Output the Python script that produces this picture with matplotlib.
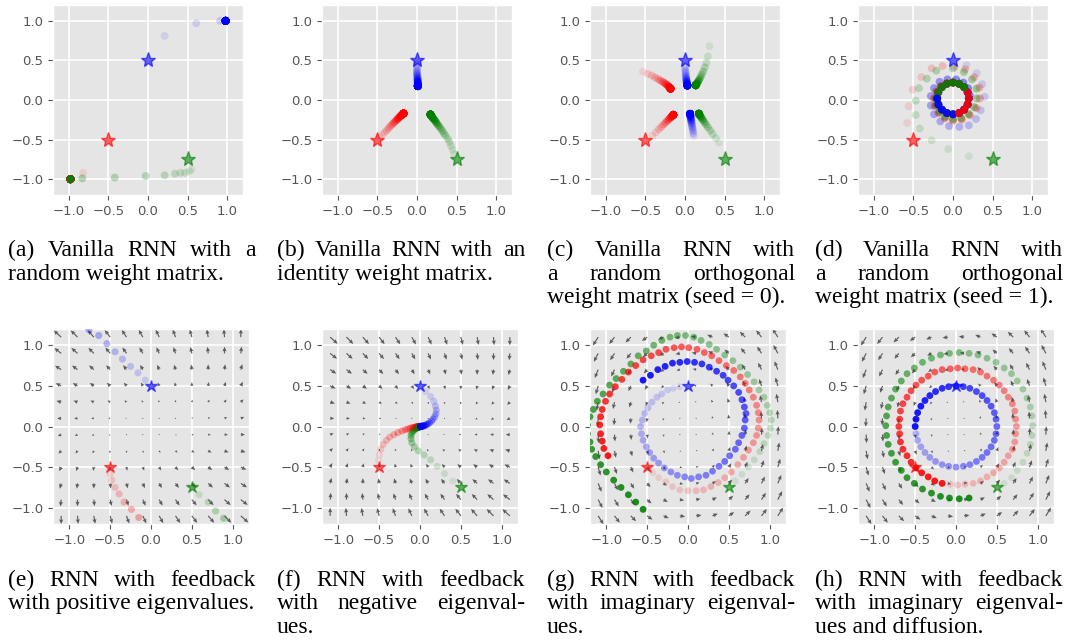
import matplotlib
matplotlib.use("Agg")
import numpy as np
import matplotlib.pyplot as plt
from matplotlib.colors import to_rgba

W, H = 1067, 642

# start points (stars), shared by every panel
START_X = [-0.5, 0.0, 0.5]
START_Y = [-0.5, 0.5, -0.75]
COLORS = ["red", "blue", "green"]

# (a) random weight matrix
A_RED = [(-0.82, -0.92)] + [(-0.98, -1.0)] * 38
A_BLUE = [(0.21, 0.81), (0.61, 0.97), (0.91, 1.0)] + [(0.98, 1.0)] * 36
A_GREEN = [(0.55, -0.88), (0.52, -0.90), (0.47, -0.92), (0.41, -0.92), (0.34, -0.93),
           (0.21, -0.95), (-0.03, -0.96), (-0.42, -0.98), (-0.83, -0.99)] + [(-0.98, -1.0)] * 30

# (b) identity weight matrix
B_RED = [(-0.47, -0.47), (-0.44, -0.44), (-0.41, -0.41), (-0.385, -0.385), (-0.36, -0.36),
         (-0.34, -0.335), (-0.32, -0.315), (-0.30, -0.295), (-0.285, -0.28), (-0.27, -0.265),
         (-0.255, -0.25), (-0.245, -0.24), (-0.235, -0.23), (-0.225, -0.22), (-0.215, -0.21),
         (-0.207, -0.203), (-0.20, -0.197), (-0.195, -0.192), (-0.19, -0.187), (-0.186, -0.183),
         (-0.182, -0.18), (-0.178, -0.177), (-0.175, -0.175)] + [(-0.17, -0.17)] * 11
B_BLUE = [(0.0, 0.47), (0.0, 0.44), (0.0, 0.41), (0.0, 0.385), (0.0, 0.36), (0.0, 0.34),
          (0.002, 0.32), (0.003, 0.30), (0.005, 0.285), (0.006, 0.27), (0.007, 0.255),
          (0.008, 0.245), (0.009, 0.235), (0.01, 0.225), (0.01, 0.215), (0.01, 0.207),
          (0.01, 0.20), (0.01, 0.195), (0.01, 0.19), (0.01, 0.186), (0.01, 0.183), (0.01, 0.18),
          (0.01, 0.178), (0.01, 0.176)] + [(0.01, 0.175)] * 10
B_GREEN = [(0.47, -0.68), (0.45, -0.63), (0.43, -0.58), (0.41, -0.53), (0.39, -0.49),
           (0.36, -0.45), (0.34, -0.42), (0.32, -0.39), (0.30, -0.36), (0.28, -0.335),
           (0.265, -0.315), (0.25, -0.295), (0.24, -0.28), (0.23, -0.265), (0.22, -0.25),
           (0.21, -0.24), (0.20, -0.23), (0.195, -0.22), (0.19, -0.212), (0.185, -0.205),
           (0.18, -0.198), (0.177, -0.193), (0.174, -0.189), (0.172, -0.186)] + [(0.17, -0.183)] * 10

# (c) random orthogonal, seed 0 (each trajectory alternates between two branches)
C_RED_UP = [(-0.53, 0.36), (-0.47, 0.33), (-0.42, 0.31), (-0.38, 0.285), (-0.34, 0.265),
            (-0.31, 0.245), (-0.28, 0.23), (-0.26, 0.215), (-0.24, 0.20), (-0.225, 0.19),
            (-0.21, 0.175), (-0.20, 0.165), (-0.195, 0.158), (-0.19, 0.152),
            (-0.187, 0.148)] + [(-0.183, 0.143)] * 8
C_RED_LOW = [(-0.41, -0.45), (-0.37, -0.41), (-0.33, -0.37), (-0.30, -0.34), (-0.27, -0.31),
             (-0.245, -0.285), (-0.225, -0.265), (-0.205, -0.245), (-0.19, -0.23),
             (-0.178, -0.218), (-0.168, -0.208), (-0.16, -0.20), (-0.155, -0.195),
             (-0.15, -0.19)] + [(-0.147, -0.187)] * 8
C_BLUE_UP = [(0.0, 0.43), (0.0, 0.40), (0.005, 0.37), (0.008, 0.34), (0.01, 0.31),
             (0.013, 0.285), (0.016, 0.265), (0.019, 0.245), (0.021, 0.23), (0.023, 0.218),
             (0.025, 0.207), (0.027, 0.198), (0.028, 0.192), (0.029, 0.187)] + [(0.03, 0.183)] * 8
C_BLUE_LOW = [(0.11, -0.45), (0.105, -0.42), (0.10, -0.39), (0.095, -0.36), (0.09, -0.33),
              (0.085, -0.30), (0.08, -0.275), (0.077, -0.255), (0.074, -0.235), (0.071, -0.22),
              (0.069, -0.205), (0.067, -0.195), (0.066, -0.187), (0.065, -0.18)] + [(0.064, -0.175)] * 8
C_GREEN_UP = [(0.31, 0.68), (0.29, 0.55), (0.27, 0.47), (0.25, 0.41), (0.23, 0.36),
              (0.21, 0.32), (0.195, 0.285), (0.18, 0.26), (0.17, 0.24), (0.16, 0.225),
              (0.15, 0.21), (0.145, 0.20), (0.14, 0.195), (0.137, 0.19)] + [(0.135, 0.186)] * 8
C_GREEN_LOW = [(0.43, -0.54), (0.39, -0.48), (0.35, -0.43), (0.32, -0.385), (0.29, -0.345),
               (0.265, -0.31), (0.245, -0.28), (0.228, -0.255), (0.214, -0.235), (0.203, -0.218),
               (0.194, -0.204), (0.187, -0.193), (0.182, -0.185), (0.178, -0.178)] + [(0.175, -0.173)] * 8

# (d) random orthogonal, seed 1 (spiral onto a small ring)
D_RED = [(-0.58, -0.29), (-0.56, -0.08), (-0.51, 0.13), (-0.40, 0.29), (-0.27, 0.40),
         (-0.13, 0.43), (0.02, 0.42), (0.153, 0.39), (0.269, 0.289), (0.333, 0.158), (0.34, 0.02),
         (0.296, -0.103), (0.212, -0.192), (0.111, -0.248), (0.0, -0.26), (-0.103, -0.229),
         (-0.184, -0.164), (-0.231, -0.076), (-0.24, 0.02), (-0.212, 0.108), (-0.156, 0.176),
         (-0.08, 0.214), (0.0, 0.22), (0.077, 0.205), (0.141, 0.161), (0.185, 0.097), (0.20, 0.02),
         (0.185, -0.057), (0.141, -0.121), (0.077, -0.165), (0.0, -0.18), (-0.077, -0.165),
         (-0.141, -0.121), (-0.185, -0.057), (-0.20, 0.02), (-0.185, 0.097), (-0.141, 0.161),
         (-0.077, 0.205), (0.0, 0.22), (0.077, 0.205), (0.141, 0.161), (0.185, 0.097), (0.20, 0.02),
         (0.185, -0.057), (0.141, -0.121), (0.077, -0.165)]
D_BLUE = [(0.17, 0.44), (0.30, 0.34), (0.37, 0.20), (0.40, 0.04), (0.35, -0.13), (0.29, -0.24),
          (0.20, -0.32), (0.08, -0.34), (-0.05, -0.33), (-0.16, -0.27), (-0.24, -0.18),
          (-0.28, -0.07), (-0.28, 0.05), (-0.24, 0.15), (-0.17, 0.23), (-0.07, 0.26), (0.04, 0.26),
          (0.13, 0.22), (0.19, 0.15), (0.21, 0.06), (0.185, -0.057), (0.141, -0.121),
          (0.077, -0.165), (0.0, -0.18), (-0.077, -0.165), (-0.141, -0.121), (-0.185, -0.057),
          (-0.20, 0.02), (-0.185, 0.097), (-0.141, 0.161), (-0.077, 0.205), (0.0, 0.22),
          (0.077, 0.205), (0.141, 0.161), (0.185, 0.097), (0.20, 0.02), (0.185, -0.057),
          (0.141, -0.121), (0.077, -0.165), (0.0, -0.18), (-0.077, -0.165), (-0.141, -0.121),
          (-0.185, -0.057), (-0.20, 0.02)]
D_GREEN = [(0.20, -0.71), (-0.06, -0.62), (-0.27, -0.51), (-0.42, -0.36), (-0.47, -0.19),
           (-0.47, -0.01), (-0.43, 0.15), (-0.33, 0.27), (-0.21, 0.37), (0.0, 0.40), (0.138, 0.353),
           (0.24, 0.26), (0.296, 0.143), (0.30, 0.02), (0.268, -0.091), (0.198, -0.178),
           (0.103, -0.229), (0.0, -0.24), (-0.096, -0.211), (-0.17, -0.15), (-0.212, -0.068),
           (-0.22, 0.02), (-0.194, 0.10), (-0.148, 0.168), (-0.077, 0.205), (0.0, 0.22),
           (0.077, 0.205), (0.141, 0.161), (0.185, 0.097), (0.20, 0.02), (0.185, -0.057),
           (0.141, -0.121), (0.077, -0.165), (0.0, -0.18), (-0.077, -0.165), (-0.141, -0.121),
           (-0.185, -0.057), (-0.20, 0.02), (-0.185, 0.097), (-0.141, 0.161), (-0.077, 0.205),
           (0.0, 0.22), (0.077, 0.205), (0.141, 0.161)]

# (e) feedback, positive eigenvalues
E_RED = [(-0.50, -0.58), (-0.48, -0.66), (-0.44, -0.75), (-0.39, -0.83), (-0.33, -0.93),
         (-0.24, -1.02), (-0.15, -1.12)]
E_BLUE = [(-0.07, 0.57), (-0.16, 0.66), (-0.25, 0.74), (-0.35, 0.83), (-0.44, 0.92),
          (-0.54, 1.02), (-0.64, 1.12), (-0.76, 1.19)]
E_GREEN = [(0.59, -0.84), (0.70, -0.93), (0.79, -1.04), (0.89, -1.13)]

# (f) feedback, negative eigenvalues
F_RED = [(-0.51, -0.42), (-0.50, -0.35), (-0.48, -0.28), (-0.45, -0.22), (-0.41, -0.17),
         (-0.37, -0.13), (-0.32, -0.10), (-0.27, -0.075), (-0.22, -0.055), (-0.18, -0.04),
         (-0.145, -0.03), (-0.115, -0.02), (-0.09, -0.015), (-0.07, -0.01), (-0.055, -0.007),
         (-0.04, -0.005), (-0.03, -0.003), (-0.02, -0.002), (-0.014, -0.001)] + [(-0.01, 0.0)] * 10
F_BLUE = [(0.07, 0.43), (0.13, 0.37), (0.17, 0.31), (0.19, 0.25), (0.20, 0.20), (0.195, 0.155),
          (0.18, 0.12), (0.16, 0.09), (0.14, 0.065), (0.115, 0.045), (0.095, 0.03), (0.075, 0.02),
          (0.06, 0.013), (0.045, 0.008), (0.035, 0.005), (0.025, 0.003), (0.018, 0.002),
          (0.012, 0.001), (0.008, 0.0)] + [(0.005, 0.0)] * 10
F_GREEN = [(0.40, -0.67), (0.30, -0.58), (0.21, -0.49), (0.13, -0.41), (0.05, -0.35),
           (-0.02, -0.30), (-0.07, -0.25), (-0.10, -0.20), (-0.11, -0.15), (-0.11, -0.11),
           (-0.10, -0.08), (-0.085, -0.055), (-0.07, -0.04), (-0.055, -0.028), (-0.042, -0.02),
           (-0.032, -0.014), (-0.024, -0.01), (-0.018, -0.007), (-0.013, -0.005)] + [(-0.01, -0.003)] * 10

# (g) feedback, imaginary eigenvalues
G_RED = [(-0.43, -0.57), (-0.36, -0.63), (-0.27, -0.68), (-0.19, -0.74), (-0.10, -0.78),
         (0.0, -0.79), (0.10, -0.79), (0.19, -0.78), (0.28, -0.74), (0.37, -0.69), (0.45, -0.63),
         (0.53, -0.56), (0.61, -0.47), (0.68, -0.38), (0.74, -0.29), (0.80, -0.20), (0.84, -0.11),
         (0.86, -0.02), (0.87, 0.08), (0.86, 0.17), (0.84, 0.26), (0.80, 0.36), (0.75, 0.45),
         (0.70, 0.53), (0.64, 0.61), (0.56, 0.69), (0.47, 0.75), (0.38, 0.81), (0.29, 0.87),
         (0.20, 0.91), (0.11, 0.95), (0.01, 0.97), (-0.08, 0.98), (-0.17, 0.97), (-0.27, 0.95),
         (-0.36, 0.91), (-0.45, 0.87), (-0.55, 0.82), (-0.64, 0.75), (-0.73, 0.67), (-0.81, 0.58),
         (-0.89, 0.49), (-0.96, 0.40), (-1.01, 0.31), (-1.05, 0.21), (-1.07, 0.12), (-1.08, 0.02),
         (-1.07, -0.09), (-1.05, -0.18), (-1.03, -0.27), (-0.98, -0.36)]
G_BLUE = [(-0.10, 0.49), (-0.18, 0.47), (-0.25, 0.45), (-0.32, 0.40), (-0.38, 0.36),
          (-0.44, 0.30), (-0.49, 0.23), (-0.53, 0.16), (-0.56, 0.08), (-0.58, 0.0), (-0.57, -0.09),
          (-0.55, -0.17), (-0.51, -0.25), (-0.47, -0.32), (-0.42, -0.39), (-0.36, -0.45),
          (-0.29, -0.51), (-0.21, -0.56), (-0.13, -0.60), (-0.04, -0.62), (0.04, -0.64),
          (0.13, -0.62), (0.22, -0.60), (0.30, -0.55), (0.38, -0.49), (0.45, -0.43), (0.51, -0.36),
          (0.58, -0.28), (0.62, -0.20), (0.66, -0.11), (0.69, -0.02), (0.70, 0.08), (0.71, 0.16),
          (0.69, 0.24), (0.66, 0.33), (0.62, 0.42), (0.56, 0.50), (0.49, 0.57), (0.43, 0.63),
          (0.35, 0.68), (0.26, 0.73), (0.17, 0.77), (0.08, 0.79), (-0.01, 0.80), (-0.10, 0.79),
          (-0.19, 0.78), (-0.28, 0.74), (-0.37, 0.70), (-0.46, 0.63), (-0.55, 0.57)]
G_GREEN = [(0.58, -0.67), (0.66, -0.59), (0.74, -0.50), (0.81, -0.41), (0.88, -0.31),
           (0.93, -0.21), (0.98, -0.11), (1.01, -0.02), (1.02, 0.08), (1.00, 0.17), (0.97, 0.26),
           (0.93, 0.36), (0.87, 0.45), (0.81, 0.55), (0.73, 0.64), (0.64, 0.73), (0.55, 0.81),
           (0.45, 0.88), (0.35, 0.95), (0.26, 1.01), (0.16, 1.06), (0.07, 1.10), (-0.03, 1.12),
           (-0.13, 1.12), (-0.22, 1.10), (-0.32, 1.06), (-0.42, 1.00), (-0.51, 0.93), (-0.61, 0.87),
           (-0.70, 0.77), (-0.79, 0.68), (-0.88, 0.59), (-0.96, 0.51), (-1.04, 0.40), (-1.11, 0.31),
           (-1.16, 0.21), (-1.20, 0.12), (-1.23, 0.02), (-1.23, -0.09), (-1.20, -0.19),
           (-1.18, -0.28), (-1.13, -0.37), (-1.07, -0.47), (-1.00, -0.56), (-0.91, -0.66),
           (-0.82, -0.75), (-0.73, -0.84), (-0.64, -0.93), (-0.55, -1.02)]

# (h) feedback, imaginary eigenvalues and diffusion
H_RED = [(-0.42, -0.57), (-0.34, -0.62), (-0.26, -0.67), (-0.17, -0.70), (-0.07, -0.71),
         (0.02, -0.72), (0.11, -0.71), (0.21, -0.70), (0.30, -0.67), (0.38, -0.62), (0.46, -0.57),
         (0.53, -0.51), (0.59, -0.44), (0.64, -0.36), (0.69, -0.28), (0.72, -0.19), (0.73, -0.09),
         (0.74, 0.0), (0.73, 0.09), (0.72, 0.19), (0.69, 0.28), (0.64, 0.36), (0.59, 0.44),
         (0.53, 0.51), (0.46, 0.57), (0.38, 0.62), (0.30, 0.67), (0.21, 0.70), (0.11, 0.71),
         (0.02, 0.72), (-0.07, 0.71), (-0.17, 0.70), (-0.26, 0.67), (-0.34, 0.62), (-0.42, 0.57),
         (-0.49, 0.51), (-0.55, 0.44), (-0.60, 0.36), (-0.65, 0.28), (-0.68, 0.19), (-0.69, 0.09),
         (-0.70, 0.0), (-0.69, -0.09), (-0.68, -0.19), (-0.65, -0.28), (-0.60, -0.36),
         (-0.55, -0.44), (-0.49, -0.51), (-0.42, -0.57), (-0.34, -0.62), (-0.26, -0.67),
         (-0.17, -0.70)]
H_BLUE = [(-0.09, 0.49), (-0.17, 0.47), (-0.25, 0.43), (-0.32, 0.38), (-0.38, 0.32),
          (-0.43, 0.25), (-0.47, 0.17), (-0.49, 0.09), (-0.50, 0.0), (-0.49, -0.09), (-0.47, -0.17),
          (-0.43, -0.25), (-0.38, -0.32), (-0.32, -0.38), (-0.25, -0.43), (-0.17, -0.47),
          (-0.09, -0.49), (0.0, -0.50), (0.09, -0.49), (0.17, -0.47), (0.25, -0.43), (0.32, -0.38),
          (0.38, -0.32), (0.43, -0.25), (0.47, -0.17), (0.49, -0.09), (0.50, 0.0), (0.49, 0.09),
          (0.47, 0.17), (0.43, 0.25), (0.38, 0.32), (0.32, 0.38), (0.25, 0.43), (0.17, 0.47),
          (0.09, 0.49), (0.0, 0.50), (-0.09, 0.49), (-0.17, 0.47), (-0.25, 0.43), (-0.32, 0.38),
          (-0.38, 0.32), (-0.43, 0.25), (-0.47, 0.17), (-0.49, 0.09), (-0.50, 0.0)]
H_GREEN = [(0.59, -0.70), (0.68, -0.63), (0.75, -0.54), (0.82, -0.44), (0.87, -0.33),
           (0.91, -0.22), (0.93, -0.11), (0.94, 0.01), (0.93, 0.13), (0.91, 0.24), (0.87, 0.35),
           (0.82, 0.46), (0.75, 0.56), (0.68, 0.65), (0.59, 0.72), (0.49, 0.79), (0.38, 0.84),
           (0.27, 0.88), (0.16, 0.90), (0.04, 0.91), (-0.08, 0.90), (-0.19, 0.88), (-0.30, 0.84),
           (-0.41, 0.79), (-0.51, 0.72), (-0.60, 0.65), (-0.67, 0.56), (-0.74, 0.46), (-0.79, 0.35),
           (-0.83, 0.24), (-0.85, 0.13), (-0.86, 0.01), (-0.85, -0.11), (-0.83, -0.22),
           (-0.79, -0.33), (-0.74, -0.44), (-0.67, -0.54), (-0.60, -0.63), (-0.51, -0.70),
           (-0.41, -0.77), (-0.30, -0.82), (-0.19, -0.86), (-0.08, -0.88), (0.04, -0.89),
           (0.16, -0.88)]

# linear feedback fields drawn as quivers (2x2 system matrices)
FIELD_E = [[1.0, -1.0], [0.2, 2.0]]
FIELD_F = [[-1.0, 1.0], [-0.2, -2.0]]
FIELD_G = [[0.0, -1.0], [1.6, 0.0]]
FIELD_H = [[0.0, -1.0], [1.6, 0.0]]

CAPTIONS = [
    ["(a) Vanilla RNN with a", "random weight matrix."],
    ["(b) Vanilla RNN with an", "identity weight matrix."],
    ["(c) Vanilla RNN with", "a random orthogonal", "weight matrix (seed = 0)."],
    ["(d) Vanilla RNN with", "a random orthogonal", "weight matrix (seed = 1)."],
    ["(e) RNN with feedback", "with positive eigenvalues."],
    ["(f) RNN with feedback", "with negative eigenval-", "ues."],
    ["(g) RNN with feedback", "with imaginary eigenval-", "ues."],
    ["(h) RNN with feedback", "with imaginary eigenval-", "ues and diffusion."],
]

plt.style.use("ggplot")
fig = plt.figure(figsize=(W / 100, H / 100), dpi=100)
fig.patch.set_facecolor("white")


def add_axes_px(left, top, w, h):
    return fig.add_axes([left / W, 1 - (top + h) / H, w / W, h / H])


def draw_panel(ax, trajs, dot_size, star_size, alpha_lo=0.1, alpha_hi=0.9,
               field=None, field_scale=20):
    ax.set_xlim(-1.2, 1.2)
    ax.set_ylim(-1.2, 1.2)
    ticks = [-1.0, -0.5, 0.0, 0.5, 1.0]
    ax.set_xticks(ticks)
    ax.set_yticks(ticks)
    ax.tick_params(labelsize=9.5, colors="#555555")
    ax.grid(True, color="white", linewidth=1.2)

    if field is not None:
        g = np.linspace(-1.1, 1.1, 12)
        X, Y = np.meshgrid(g, g)
        U = field[0][0] * X + field[0][1] * Y
        V = field[1][0] * X + field[1][1] * Y
        ax.quiver(X, Y, U, V, angles="xy", scale_units="xy", scale=field_scale,
                  color="#444444", alpha=0.85, width=0.006, headwidth=3.5,
                  headlength=4, headaxislength=3.5, zorder=2)

    # interleave the trajectories step by step so overlaps blend like the original
    pts = []
    for order, (color, traj) in enumerate(trajs):
        n = len(traj)
        for i, (x, y) in enumerate(traj):
            a = alpha_lo + (alpha_hi - alpha_lo) * (i / max(n - 1, 1))
            pts.append((i, order, x, y, to_rgba(color, a)))
    pts.sort(key=lambda p: (p[0], p[1]))
    ax.scatter([p[2] for p in pts], [p[3] for p in pts], s=dot_size,
               c=[p[4] for p in pts], edgecolors="none", zorder=3)

    for x, y, c in zip(START_X, START_Y, COLORS):
        ax.plot(x, y, marker="*", markersize=star_size, color=c, alpha=0.6,
                linestyle="none", zorder=4)


top_lefts = [53, 322, 590, 858]

ax = add_axes_px(top_lefts[0], 5, 190, 190)
draw_panel(ax, [("red", A_RED), ("green", A_GREEN), ("blue", A_BLUE)], 32, 11)

ax = add_axes_px(top_lefts[1], 5, 190, 190)
draw_panel(ax, [("red", B_RED), ("green", B_GREEN), ("blue", B_BLUE)], 32, 11)

ax = add_axes_px(top_lefts[2], 5, 190, 190)
draw_panel(ax, [("red", C_RED_UP), ("red", C_RED_LOW), ("green", C_GREEN_UP),
                ("green", C_GREEN_LOW), ("blue", C_BLUE_UP), ("blue", C_BLUE_LOW)], 32, 11)

ax = add_axes_px(top_lefts[3], 5, 190, 190)
draw_panel(ax, [("red", D_RED), ("green", D_GREEN), ("blue", D_BLUE)], 32, 11)

ax = add_axes_px(top_lefts[0], 329, 196, 195)
draw_panel(ax, [("red", E_RED), ("green", E_GREEN), ("blue", E_BLUE)], 26, 9,
           alpha_lo=0.14, alpha_hi=0.3, field=FIELD_E, field_scale=24)

ax = add_axes_px(top_lefts[1], 329, 196, 195)
draw_panel(ax, [("red", F_RED), ("green", F_GREEN), ("blue", F_BLUE)], 26, 9,
           field=FIELD_F, field_scale=24)

ax = add_axes_px(top_lefts[2], 329, 196, 195)
draw_panel(ax, [("red", G_RED), ("green", G_GREEN), ("blue", G_BLUE)], 24, 9,
           field=FIELD_G, field_scale=17)

ax = add_axes_px(top_lefts[3], 329, 196, 195)
draw_panel(ax, [("red", H_RED), ("green", H_GREEN), ("blue", H_BLUE)], 24, 9,
           field=FIELD_H, field_scale=17)

# captions: justified lines, last line flush left
renderer = fig.canvas.get_renderer()
cap_font = dict(family="Liberation Serif", size=17, color="black", va="baseline")
col_x = [8, 277, 547, 815]
col_w = 248
baselines = [[256, 280, 303], [586, 609, 633]]

for k, lines in enumerate(CAPTIONS):
    x0 = col_x[k % 4]
    ys = baselines[k // 4]
    for j, line in enumerate(lines):
        yf = 1 - ys[j] / H
        words = line.split(" ")
        if j == len(lines) - 1 or len(words) == 1:
            fig.text(x0 / W, yf, line, ha="left", **cap_font)
            continue
        texts = [fig.text(0, yf, w, ha="left", **cap_font) for w in words]
        widths = [t.get_window_extent(renderer).width for t in texts]
        gap = (col_w - sum(widths)) / (len(words) - 1)
        x = x0
        for t, wdt in zip(texts, widths):
            t.set_x(x / W)
            x += wdt + gap

fig.savefig("out.png", dpi=100, facecolor="white")
